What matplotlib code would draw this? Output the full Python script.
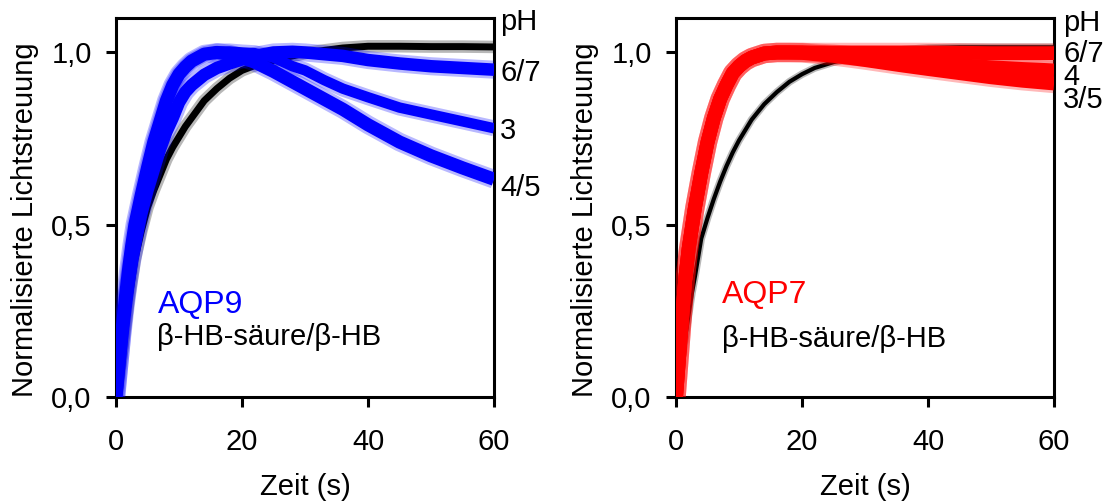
import matplotlib
matplotlib.use("Agg")
import matplotlib.pyplot as plt
import matplotlib.transforms as mtransforms

plt.rcParams['font.family'] = ['Liberation Sans', 'DejaVu Sans']

# ---- time axis (s) ----
t = [0, 0.5, 1, 1.5, 2, 2.5, 3, 4, 5, 6, 7, 8, 9, 10, 11, 12, 14, 16, 18,
     20, 22, 25, 28, 30, 33, 36, 40, 45, 50, 55, 60]

# ---- AQP9 panel ----
aqp9_ctrl = [0, 0.07, 0.14, 0.21, 0.28, 0.34, 0.40, 0.48, 0.55, 0.60, 0.645,
             0.69, 0.725, 0.755, 0.785, 0.81, 0.86, 0.895, 0.925, 0.948, 0.962,
             0.977, 0.99, 0.998, 1.006, 1.013, 1.018, 1.018, 1.017, 1.017, 1.016]
aqp9_ph67 = [0, 0.09, 0.18, 0.26, 0.33, 0.39, 0.44, 0.53, 0.60, 0.66, 0.72,
             0.77, 0.81, 0.855, 0.885, 0.905, 0.935, 0.955, 0.968, 0.98, 0.99,
             1.0, 1.002, 1.0, 0.995, 0.99, 0.978, 0.968, 0.96, 0.955, 0.95]
aqp9_ph3 = [0, 0.10, 0.20, 0.29, 0.37, 0.44, 0.50, 0.585, 0.665, 0.74, 0.80,
            0.86, 0.905, 0.937, 0.958, 0.975, 0.995, 1.003, 1.003, 1.0, 0.998,
            0.985, 0.96, 0.948, 0.92, 0.895, 0.87, 0.84, 0.82, 0.80, 0.78]
aqp9_ph45 = [0, 0.10, 0.20, 0.29, 0.37, 0.44, 0.50, 0.585, 0.665, 0.74, 0.80,
             0.86, 0.905, 0.937, 0.958, 0.975, 0.995, 1.0, 0.995, 0.985, 0.972,
             0.945, 0.915, 0.895, 0.865, 0.835, 0.79, 0.74, 0.70, 0.665, 0.632]

# ---- AQP7 panel ----
aqp7_ctrl = [0, 0.06, 0.12, 0.18, 0.24, 0.30, 0.35, 0.46, 0.52, 0.575, 0.625,
             0.67, 0.71, 0.745, 0.775, 0.805, 0.85, 0.885, 0.915, 0.937, 0.955,
             0.972, 0.985, 0.992, 1.0, 1.008, 1.013, 1.015, 1.015, 1.015, 1.015]
aqp7_ph67 = [0, 0.12, 0.24, 0.35, 0.43, 0.49, 0.55, 0.65, 0.74, 0.81, 0.865,
             0.905, 0.94, 0.96, 0.975, 0.985, 0.997, 1.0, 1.0, 1.0, 1.0,
             1.0, 1.0, 1.0, 1.0, 1.0, 1.0, 0.999, 0.998, 0.998, 0.998]
aqp7_ph4 = [0, 0.12, 0.24, 0.35, 0.43, 0.49, 0.55, 0.65, 0.74, 0.81, 0.865,
            0.905, 0.94, 0.96, 0.975, 0.985, 0.997, 1.0, 1.0, 1.0, 0.998,
            0.995, 0.99, 0.987, 0.982, 0.977, 0.97, 0.963, 0.957, 0.952, 0.948]
aqp7_ph35 = [0, 0.12, 0.24, 0.35, 0.43, 0.49, 0.55, 0.65, 0.74, 0.81, 0.865,
             0.905, 0.94, 0.96, 0.975, 0.985, 0.997, 1.0, 1.0, 0.999, 0.995,
             0.99, 0.983, 0.978, 0.97, 0.962, 0.952, 0.94, 0.928, 0.918, 0.91]

xticks = [0, 20, 40, 60]
xticklabels = ["0", "20", "40", "60"]
yticks = [0.0, 0.5, 1.0]
yticklabels = ["0,0", "0,5", "1,0"]

BLUE = "#0000ff"
RED = "#ff0000"
FS = 21

fig = plt.figure(figsize=(11.07, 5.03), dpi=100)
ax1 = fig.add_axes([0.1048, 0.2107, 0.3415, 0.7535])
ax2 = fig.add_axes([0.6107, 0.2107, 0.3415, 0.7535])


def trace(ax, y, color, lw, z, halo=4):
    # soft outer band for the noise envelope, then the solid core
    ax.plot(t, y, color=color, lw=lw + halo, alpha=0.28, zorder=z,
            solid_joinstyle='round', solid_capstyle='butt')
    ax.plot(t, y, color=color, lw=lw, zorder=z + 0.5,
            solid_joinstyle='round', solid_capstyle='butt')


def style(ax):
    ax.set_xlim(0, 60)
    ax.set_ylim(0, 1.1)
    ax.set_xticks(xticks)
    ax.set_xticklabels(xticklabels)
    ax.set_yticks(yticks)
    ax.set_yticklabels(yticklabels)
    for s in ax.spines.values():
        s.set_linewidth(2.2)
    ax.tick_params(axis='both', direction='out', length=7.5, width=2.2,
                   labelsize=FS)
    ax.tick_params(axis='x', pad=15)
    ax.tick_params(axis='y', pad=10)
    ax.tick_params(top=False, right=False)
    ax.set_xlabel("Zeit (s)", fontsize=FS, labelpad=12)
    ax.set_ylabel("Normalisierte Lichtstreuung", fontsize=FS)
    ax.yaxis.set_label_coords(-0.204, 0.467)


def side_labels(ax, xpos, items):
    tr = mtransforms.blended_transform_factory(ax.transAxes, ax.transData)
    for txt, yv in items:
        ax.text(xpos, yv, txt, transform=tr, fontsize=FS, ha='left',
                va='baseline', color='black', clip_on=False)


# AQP9
trace(ax1, aqp9_ctrl, 'black', 5.0, 2)
trace(ax1, aqp9_ph67, BLUE, 9, 3)
trace(ax1, aqp9_ph3, BLUE, 7.5, 4)
trace(ax1, aqp9_ph45, BLUE, 9.5, 5)
style(ax1)
ax1.text(6.7, 0.244, "AQP9", color=BLUE, fontsize=23, va='baseline')
ax1.text(6.5, 0.151, "β-HB-säure/β-HB", color='black', fontsize=FS,
         va='baseline')
side_labels(ax1, 1.016, [("pH", 1.064), ("6/7", 0.917), ("3", 0.749),
                         ("4/5", 0.583)])

# AQP7
trace(ax2, aqp7_ctrl, 'black', 3.0, 2, halo=2.5)
trace(ax2, aqp7_ph35, RED, 10, 3)
trace(ax2, aqp7_ph4, RED, 10, 4)
trace(ax2, aqp7_ph67, RED, 10, 5)
style(ax2)
ax2.text(7.3, 0.273, "AQP7", color=RED, fontsize=23, va='baseline')
ax2.text(7.3, 0.145, "β-HB-säure/β-HB", color='black', fontsize=FS,
         va='baseline')
side_labels(ax2, 1.024, [("pH", 1.061), ("6/7", 0.972), ("4", 0.907),
                         ("3/5", 0.839)])

fig.savefig("out.png", dpi=100)
